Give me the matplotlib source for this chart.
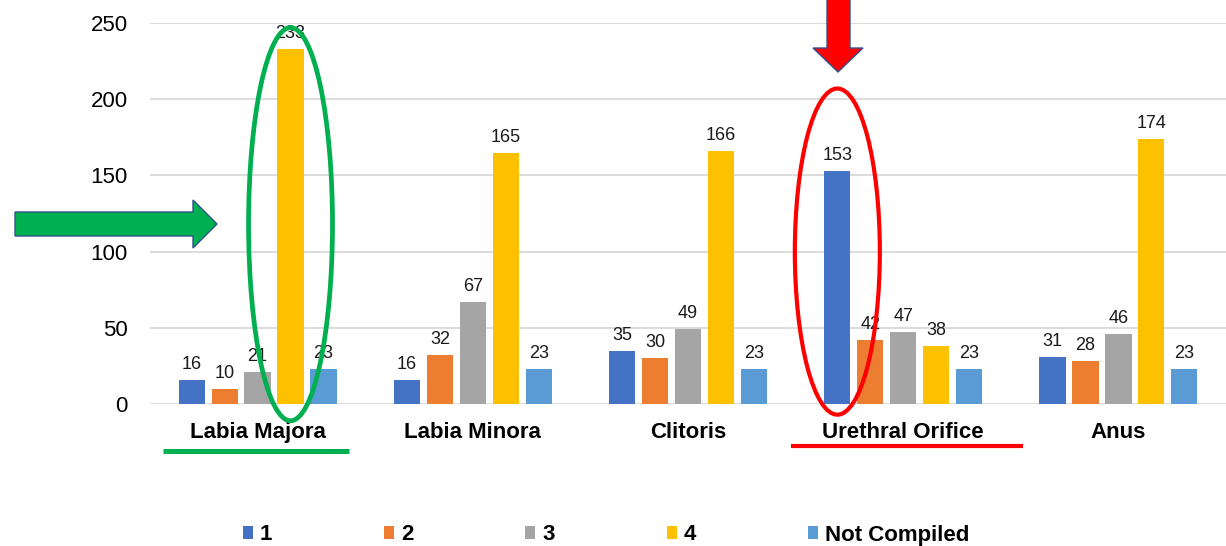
"""
Bar chart by site: score distribution, with highlight annotations
"""

import numpy as np
import matplotlib
matplotlib.use("Agg")
import matplotlib.pyplot as plt
from matplotlib.patches import Ellipse, Polygon

plt.rcParams["font.family"] = ["Liberation Sans", "DejaVu Sans"]

# ── data ──
categories = ["Labia Majora", "Labia Minora", "Clitoris", "Urethral Orifice", "Anus"]
series_names = ["1", "2", "3", "4", "Not Compiled"]
score_1 = [16, 16, 35, 153, 31]
score_2 = [10, 32, 30, 42, 28]
score_3 = [21, 67, 49, 47, 46]
score_4 = [233, 165, 166, 38, 174]
not_compiled = [23, 23, 23, 23, 23]
yticks = [0, 50, 100, 150, 200, 250]

colors = ["#4472C4", "#ED7D31", "#A5A5A5", "#FFC000", "#5B9BD5"]

W, H = 1226, 546
fig = plt.figure(figsize=(W / 100, H / 100), dpi=100)
ax = fig.add_axes([150 / W, 1 - 404 / H, 1076 / W, 381 / H])

series = [score_1, score_2, score_3, score_4, not_compiled]
x = np.arange(len(categories))
step = 0.153
bw = 0.122

for i, (vals, name, c) in enumerate(zip(series, series_names, colors)):
    pos = x + (i - 2) * step
    bars = ax.bar(pos, vals, bw, color=c, label=name, zorder=2)
    for b, v in zip(bars, vals):
        ax.annotate(f"{v}", (b.get_x() + b.get_width() / 2, v),
                    xytext=(0, 5), textcoords="offset points",
                    ha="center", va="bottom", fontsize=13, color="#1a1a1a", zorder=3)

ax.set_xlim(-0.5, len(categories) - 0.5)
ax.set_ylim(0, 250)
ax.set_yticks(yticks)
ax.set_xticks(x)
ax.set_xticklabels(categories, fontsize=16, fontweight="bold")
ax.tick_params(axis="y", labelsize=16, length=0, pad=16)
ax.tick_params(axis="x", length=0, pad=13)
ax.grid(axis="y", color="#D9D9D9", lw=1.3, zorder=0)
ax.set_axisbelow(True)
for s in ax.spines.values():
    s.set_visible(False)

# ── highlight ellipses (around the 4 bar of Labia Majora and the 1 bar of Urethral Orifice) ──
ax.add_patch(Ellipse((0 + step, 118), 0.39, 258, fill=False, ec="#00B050",
                     lw=3.4, zorder=5, clip_on=False))
ax.add_patch(Ellipse((3 - 2 * step, 100), 0.395, 214, fill=False, ec="#FF0000",
                     lw=3.0, zorder=5, clip_on=False))

# underlines under category labels
trans = ax.get_xaxis_transform()
ax.plot([-0.44, 0.425], [-0.123, -0.123], color="#00B050", lw=3.6,
        transform=trans, clip_on=False, solid_capstyle="butt")
ax.plot([2.479, 3.557], [-0.110, -0.110], color="#FF0000", lw=3.0,
        transform=trans, clip_on=False, solid_capstyle="butt")


# ── block arrows (pixel coords -> figure fraction) ──
def block_arrow(pts, color):
    pts = [(px / W, 1 - py / H) for px, py in pts]
    fig.add_artist(Polygon(pts, closed=True, fc=color, ec="#2F528F", lw=1.0,
                           transform=fig.transFigure, zorder=6))


block_arrow([(15, 212), (193, 212), (193, 200), (217, 224), (193, 248),
             (193, 236), (15, 236)], "#00B050")
block_arrow([(827, -5), (850, -5), (850, 48), (863, 48), (838, 72),
             (813, 48), (827, 48)], "#FF0000")

# ── legend ──
leg = fig.legend(loc="center", bbox_to_anchor=(606 / W, 1 - 535 / H), ncol=5,
                 frameon=False, handlelength=0.45, handleheight=0.5,
                 handletextpad=0.3, columnspacing=5.05,
                 prop={"size": 16, "weight": "bold"})

fig.savefig("out.png", dpi=100)
